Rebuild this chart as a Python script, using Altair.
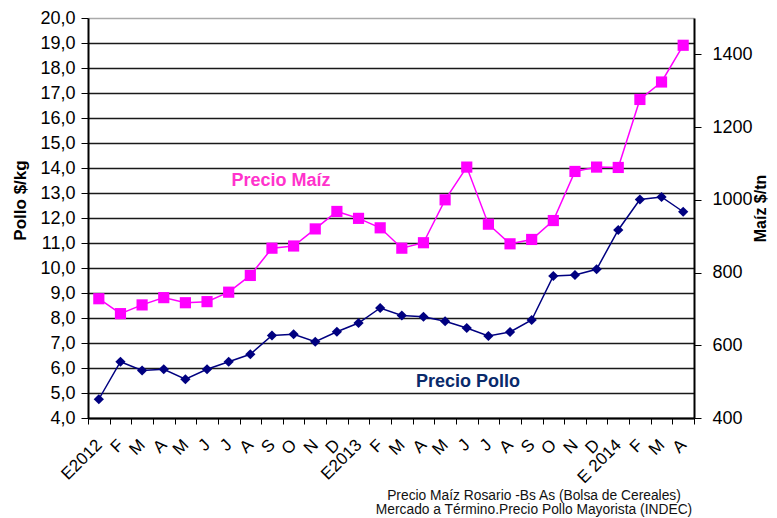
import altair as alt
import pandas as pd

months = ["E2012", "F", "M", "A", "M", "J", "J", "A", "S", "O", "N", "D",
          "E2013", "F", "M", "A", "M", "J", "J", "A", "S", "O", "N", "D",
          "E 2014", "F", "M", "A"]
pollo = [4.75, 6.25, 5.9, 5.95, 5.55, 5.95, 6.25, 6.55, 7.3, 7.35, 7.05, 7.45,
         7.8, 8.4, 8.1, 8.05, 7.87, 7.6, 7.28, 7.44, 7.92, 9.68, 9.72, 9.95,
         11.52, 12.74, 12.84, 12.25]
maiz = [728, 687, 711, 731, 717, 720, 746, 792, 867, 873, 920, 968,
        949, 923, 867, 882, 1000, 1090, 933, 879, 891, 943, 1078, 1090,
        1089, 1276, 1324, 1425]
left_ticks = list(range(4, 21))
right_ticks = [400, 600, 800, 1000, 1200, 1400]
footer = ["Precio Maíz Rosario -Bs As (Bolsa de Cereales)",
          "Mercado a Término.Precio Pollo Mayorista (INDEC)"]

df = pd.DataFrame({"i": list(range(len(months))), "pollo": pollo, "maiz": maiz})

FONT = "Liberation Sans"
label_js = "[" + ",".join("'" + m + "'" for m in months) + "][datum.value]"

xenc = alt.X("i:O",
             scale=alt.Scale(type="band", paddingInner=0, paddingOuter=0),
             axis=alt.Axis(title=None, labelExpr=label_js, labelAngle=315,
                           labelAlign="right", labelBaseline="middle",
                           labelFontSize=17, labelColor="black", labelPadding=18,
                           labelOverlap=False,
                           tickBand="extent", tickSize=6, tickColor="black",
                           domainColor="black", domainWidth=2, grid=False))

base = alt.Chart(df)

pollo_chart = base.mark_line(
    color="#000080", strokeWidth=1.5,
    point=alt.OverlayMarkDef(shape="diamond", filled=True, color="#000080", size=105, opacity=1)
).encode(
    x=xenc,
    y=alt.Y("pollo:Q", scale=alt.Scale(domain=[4, 20], nice=False, zero=False),
            axis=alt.Axis(values=left_ticks, title="Pollo $/kg",
                          labelExpr="replace(format(datum.value,'.1f'),'.',',')",
                          labelFontSize=18, labelColor="black", labelPadding=6,
                          labelOverlap=False,
                          titleFontSize=17, titleFontWeight="bold", titleColor="black",
                          titleAngle=270, titleX=-68, titleY=182,
                          titleAlign="center", titleBaseline="middle",
                          tickSize=7, tickColor="black",
                          domainColor="black", domainWidth=2,
                          gridColor={"condition": {"test": "datum.value == 20", "value": "#aaaaaa"}, "value": "#1a1a1a"},
                          gridWidth=1.5)))

maiz_chart = base.mark_line(
    color="#FF00FF", strokeWidth=1.5,
    point=alt.OverlayMarkDef(shape="square", filled=True, color="#FF00FF", size=125, opacity=1)
).encode(
    x=xenc,
    y=alt.Y("maiz:Q", scale=alt.Scale(domain=[400, 1500], nice=False, zero=False),
            axis=alt.Axis(orient="right", values=right_ticks, title="Maíz $/tn",
                          format="d", grid=False, labelFontSize=18, labelColor="black",
                          labelPadding=11, labelOverlap=False,
                          titleFontSize=16, titleFontWeight="bold", titleColor="black",
                          titleAngle=270, titleX=66, titleY=190,
                          titleAlign="center", titleBaseline="middle",
                          tickSize=7, tickColor="black",
                          domainColor="black", domainWidth=2)))

ann_maiz = alt.Chart(pd.DataFrame({"t": ["Precio Maíz"]})).mark_text(
    font=FONT, fontSize=18, fontWeight="bold", color="#FF33CC").encode(
    text="t:N", x=alt.value(193), y=alt.value(163))
ann_pollo = alt.Chart(pd.DataFrame({"t": ["Precio Pollo"]})).mark_text(
    font=FONT, fontSize=18, fontWeight="bold", color="#0A2A6B").encode(
    text="t:N", x=alt.value(380), y=alt.value(364))
foot1 = alt.Chart(pd.DataFrame({"t": [footer[0]]})).mark_text(
    font=FONT, fontSize=13.8, color="#111111").encode(
    text="t:N", x=alt.value(446), y=alt.value(477.5))
foot2 = alt.Chart(pd.DataFrame({"t": [footer[1]]})).mark_text(
    font=FONT, fontSize=13.8, color="#111111").encode(
    text="t:N", x=alt.value(446), y=alt.value(492))

chart = alt.layer(pollo_chart, maiz_chart, ann_maiz, ann_pollo, foot1, foot2).resolve_scale(
    y="independent").properties(
    width=606, height=400,
    autosize=alt.AutoSizeParams(type="none"),
    padding={"left": 80, "top": 10, "right": 75, "bottom": 100},
    background="white"
).configure(font=FONT).configure_view(stroke=None)

chart.save("out.html", embed_options={"renderer": "svg", "actions": False})
